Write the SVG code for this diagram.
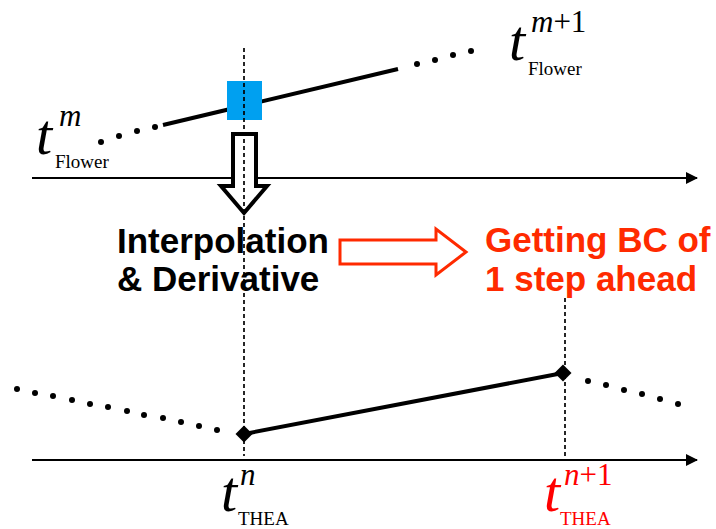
<svg xmlns="http://www.w3.org/2000/svg" width="716" height="529" viewBox="0 0 716 529">
<style>
.ax{stroke:#000;stroke-width:2;fill:none}
.dash{stroke:#000;stroke-width:1.7;stroke-dasharray:4,3;fill:none}
.solid{stroke:#000;stroke-width:4;fill:none}
.dot{fill:#000}
.ti{font-family:"Liberation Serif","Times New Roman",serif;font-style:italic}
.tr{font-family:"Liberation Serif","Times New Roman",serif}
.lb{font-family:"Liberation Sans",Arial,sans-serif;font-weight:bold;font-size:35px}
</style>
<defs>
<marker id="ah" viewBox="0 0 12 12" refX="11" refY="6" markerWidth="12" markerHeight="12" markerUnits="userSpaceOnUse" orient="auto">
<path d="M0,0 L12,6 L0,12 Z" fill="#000"/>
</marker>
</defs>
<g id="connectors">
<line class="ax" x1="32" y1="178" x2="697" y2="178" marker-end="url(#ah)"/>
<line class="ax" x1="32" y1="460" x2="697" y2="460" marker-end="url(#ah)"/>
<line class="solid" x1="163" y1="125" x2="398" y2="69"/>
<line class="solid" x1="244" y1="434" x2="563" y2="373"/>
<g class="dot">
<circle cx="101" cy="142" r="3"/><circle cx="119" cy="136" r="3"/><circle cx="137" cy="131" r="3"/><circle cx="155" cy="127" r="3"/>
<circle cx="417" cy="64" r="3"/><circle cx="435" cy="60" r="3"/><circle cx="453" cy="55" r="3"/><circle cx="471" cy="51" r="3"/>
<circle cx="17" cy="389" r="3"/><circle cx="35" cy="393" r="3"/><circle cx="53" cy="396" r="3"/><circle cx="72" cy="400" r="3"/><circle cx="90" cy="404" r="3"/><circle cx="108" cy="407" r="3"/><circle cx="127" cy="411" r="3"/><circle cx="144" cy="415" r="3"/><circle cx="163" cy="418" r="3"/><circle cx="181" cy="422" r="3"/><circle cx="199" cy="426" r="3"/><circle cx="217" cy="430" r="3"/>
<circle cx="588" cy="381" r="3"/><circle cx="606" cy="385" r="3"/><circle cx="624" cy="390" r="3"/><circle cx="642" cy="394" r="3"/><circle cx="660" cy="399" r="3"/><circle cx="678" cy="404" r="3"/>
</g>
</g>
<g id="blue-square"><rect x="227" y="81" width="35" height="39" fill="#00A0F0"/></g>
<g id="down-arrow"><path d="M233,134 L256,134 L256,186 L267,186 L244,213 L221,186 L233,186 Z" fill="#fff" stroke="#000" stroke-width="4" stroke-linejoin="miter"/></g>
<g id="red-arrow"><path d="M340,240 L436,240 L436,229 L466,252 L436,275 L436,264 L340,264 Z" fill="#fff" stroke="#FF2A00" stroke-width="3"/></g>
<g id="diamond-n"><rect x="238" y="428" width="12" height="12" transform="rotate(45 244 434)" fill="#000"/></g>
<g id="diamond-n1"><rect x="557" y="367" width="12" height="12" transform="rotate(45 563 373)" fill="#000"/></g>
<g id="label-interp"><text class="lb" x="117" y="253" fill="#000">Interpolation</text><text class="lb" x="117" y="291" fill="#000">&amp; Derivative</text></g>
<g id="label-bc"><text class="lb" x="485" y="252" fill="#FF2A00">Getting BC of</text><text class="lb" x="485" y="291" fill="#FF2A00">1 step ahead</text></g>
<g id="t-m"><text class="ti" x="36" y="154" font-size="58">t</text><text class="ti" x="59" y="126" font-size="31">m</text><text class="tr" x="55" y="168" font-size="19">Flower</text></g>
<g id="t-m1"><text class="ti" x="509" y="60" font-size="58">t</text><text x="531" y="32" font-size="31"><tspan class="ti">m</tspan><tspan class="tr">+1</tspan></text><text class="tr" x="528" y="75" font-size="19">Flower</text></g>
<g id="t-n"><text class="ti" x="221" y="511" font-size="58">t</text><text class="ti" x="240" y="485" font-size="31">n</text><text class="tr" x="238" y="525" font-size="19">THEA</text></g>
<g id="t-n1" fill="#FF0000"><text class="ti" x="544" y="511" font-size="58">t</text><text x="564" y="485" font-size="31"><tspan class="ti">n</tspan><tspan class="tr">+1</tspan></text><text class="tr" x="560" y="525" font-size="19">THEA</text></g>
<g id="guides">
<line class="dash" x1="244" y1="48" x2="244" y2="456"/>
<line class="dash" x1="565" y1="298" x2="565" y2="460"/>
</g>
</svg>
